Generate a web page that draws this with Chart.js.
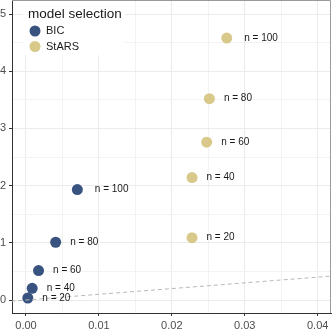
<!DOCTYPE html>
<html>
<head>
<meta charset="utf-8">
<script src="https://cdn.jsdelivr.net/npm/chart.js@4"></script>
<style>
  body { margin: 0; background: #fff; }
</style>
</head>
<body>
<canvas id="myChart" width="332" height="332"></canvas>
<script>
// datos
const sampleSizes = [20, 40, 60, 80, 100];
const bicX = [0.00025, 0.00085, 0.00172, 0.00407, 0.00704];
const bicY = [0.035, 0.205, 0.515, 1.01, 1.93];
const starsX = [0.02277, 0.02277, 0.02478, 0.02515, 0.02753];
const starsY = [1.09, 2.14, 2.76, 3.52, 4.58];
const refLineX = [-0.002, 0.042];
const refLineY = [-0.02, 0.42];

const xTicks = [0, 0.01, 0.02, 0.03, 0.04];
const xMinorTicks = [0.005, 0.015, 0.025, 0.035];
const yTicks = [0, 1, 2, 3, 4, 5];
const yMinorTicks = [0.5, 1.5, 2.5, 3.5, 4.5];

const seriesNames = ['BIC', 'StARS'];
const legendTitle = 'model selection';

const FONT = '"Liberation Sans", Arial, sans-serif';
const BLUE = '#395381';
const TAN = '#d8c98b';

const toPoints = (xs, ys) => xs.map((x, i) => ({ x: x, y: ys[i] }));

// etiquetas "n = .." junto a cada punto
const pointLabels = {
  id: 'pointLabels',
  afterDatasetsDraw(chart) {
    const ctx = chart.ctx;
    ctx.save();
    ctx.font = '10px ' + FONT;
    ctx.fillStyle = '#1a1a1a';
    ctx.textAlign = 'left';
    ctx.textBaseline = 'middle';
    [0, 1].forEach(di => {
      const meta = chart.getDatasetMeta(di);
      meta.data.forEach((pt, i) => {
        const txt = 'n = ' + sampleSizes[i];
        const off = sampleSizes[i] >= 100 ? 17.5 : 14.5;
        ctx.fillText(txt, pt.x + off, pt.y);
      });
    });
    ctx.restore();
  }
};

// borde del panel arriba y derecha + leyenda
const panelExtras = {
  id: 'panelExtras',
  afterDraw(chart) {
    const ctx = chart.ctx;
    const a = chart.chartArea;
    ctx.save();
    ctx.strokeStyle = '#9a9a9a';
    ctx.lineWidth = 1;
    ctx.beginPath();
    ctx.moveTo(a.left, a.top + 0.5);
    ctx.lineTo(a.right - 0.5, a.top + 0.5);
    ctx.lineTo(a.right - 0.5, a.bottom);
    ctx.stroke();

    // leyenda
    ctx.fillStyle = '#ffffff';
    ctx.fillRect(a.left + 11, a.top + 1, 102, 54);
    ctx.fillStyle = '#1a1a1a';
    ctx.textBaseline = 'middle';
    ctx.textAlign = 'left';
    ctx.font = '13.5px ' + FONT;
    ctx.fillText(legendTitle, a.left + 16, a.top + 14);
    ctx.font = '11px ' + FONT;
    seriesNames.forEach((name, i) => {
      const y = a.top + 31 + i * 15.5;
      ctx.fillStyle = chart.data.datasets[i].backgroundColor;
      ctx.beginPath();
      ctx.arc(a.left + 23, y, 5.5, 0, Math.PI * 2);
      ctx.fill();
      ctx.fillStyle = '#1a1a1a';
      ctx.fillText(name, a.left + 34, y);
    });
    ctx.restore();
  }
};

const ctx = document.getElementById('myChart');

new Chart(ctx, {
  type: 'scatter',
  data: {
    datasets: [
      {
        label: seriesNames[0],
        data: toPoints(bicX, bicY),
        backgroundColor: BLUE,
        borderWidth: 0,
        pointRadius: 5.5,
        order: 2
      },
      {
        label: seriesNames[1],
        data: toPoints(starsX, starsY),
        backgroundColor: TAN,
        borderWidth: 0,
        pointRadius: 5.5,
        order: 3
      },
      {
        type: 'line',
        label: 'ref',
        data: toPoints(refLineX, refLineY),
        borderColor: '#b8b8b8',
        borderWidth: 1,
        borderDash: [4, 3],
        pointRadius: 0,
        fill: false,
        order: 1
      }
    ]
  },
  options: {
    responsive: false,
    animation: false,
    layout: { autoPadding: false, padding: { top: 0, right: 1, left: 0, bottom: 0 } },
    plugins: {
      legend: { display: false },
      tooltip: { enabled: false }
    },
    scales: {
      x: {
        type: 'linear',
        min: -0.00192,
        max: 0.04183,
        afterFit(scale) {
          scale.height = 19;
          scale.paddingLeft = 0;
          scale.paddingRight = 0;
        },
        afterBuildTicks(scale) {
          scale.ticks = xTicks.concat(xMinorTicks).sort((a, b) => a - b).map(v => ({ value: v }));
        },
        ticks: {
          autoSkip: false,
          maxRotation: 0,
          padding: 3,
          color: '#4d4d4d',
          font: { family: FONT, size: 11 },
          callback: v => xTicks.includes(v) ? v.toFixed(2) : ''
        },
        grid: {
          color: c => xTicks.includes(c.tick.value) ? '#ebebeb' : '#f3f3f3',
          lineWidth: 1,
          tickLength: 3,
          tickColor: c => xTicks.includes(c.tick.value) ? '#333333' : 'rgba(0,0,0,0)'
        },
        border: { color: '#333333', width: 1 }
      },
      y: {
        type: 'linear',
        min: -0.227,
        max: 5.245,
        afterFit(scale) {
          scale.width = 12;
          scale.paddingTop = 0;
          scale.paddingBottom = 0;
        },
        afterBuildTicks(scale) {
          scale.ticks = yTicks.concat(yMinorTicks).sort((a, b) => a - b).map(v => ({ value: v }));
        },
        ticks: {
          autoSkip: false,
          padding: 3,
          color: '#4d4d4d',
          font: { family: FONT, size: 11 },
          callback: v => yTicks.includes(v) ? String(v) : ''
        },
        grid: {
          color: c => yTicks.includes(c.tick.value) ? '#ebebeb' : '#f3f3f3',
          lineWidth: 1,
          tickLength: 3,
          tickColor: c => yTicks.includes(c.tick.value) ? '#333333' : 'rgba(0,0,0,0)'
        },
        border: { color: '#333333', width: 1 }
      }
    }
  },
  plugins: [pointLabels, panelExtras]
});
</script>
</body>
</html>
